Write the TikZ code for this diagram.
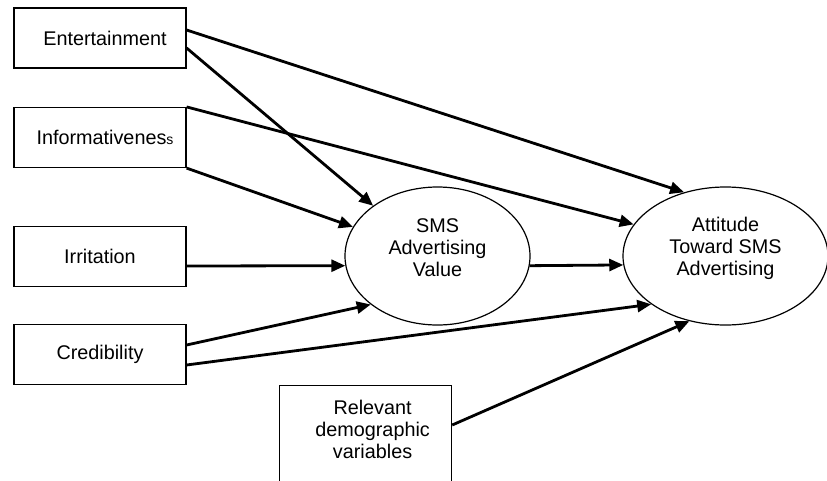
\documentclass[tikz,border=0pt]{standalone}
\usepackage{fontspec}
\setmainfont{Liberation Sans}
\usetikzlibrary{arrows.meta,positioning,shapes.geometric}

\tikzset{
  factor/.style={draw, line width=1.2pt, minimum width=172pt, minimum height=60pt, inner sep=0pt},
  construct/.style={draw, ellipse, line width=1.2pt, minimum height=138pt, inner sep=0pt},
  link/.style={line width=2.8pt, -{Triangle[length=14pt,width=12pt]}},
}

\begin{document}
\begin{tikzpicture}[x=1pt, y=-1pt, font=\fontsize{19.8}{22}\selectfont]
            \useasboundingbox (0,0) rectangle (827,480);
            % antecedents
            \node[factor] (ent) at (100,38) {\hspace*{10pt}Entertainment};
            \node[factor] (inf) at (100,137.5) {\hspace*{10pt}Informativenes{\fontsize{14}{22}\selectfont s}};
            \node[factor] (irr) at (100,256.5) {Irritation};
            \node[factor] (cred) at (100,354.5) {Credibility};
            \node[factor, minimum height=120pt, anchor=north west] (rel) at (279,385) {};
            \node[align=center, anchor=north, inner sep=0pt] (reltext) at ([xshift=7pt, yshift=-15pt]rel.north) {Relevant\\demographic\\variables};

            % constructs
            \node[construct, minimum width=185pt, label={[name=smstext, align=center, yshift=8pt]center:SMS\\Advertising\\Value}] (sms) at (437.5,256) {};
            \node[construct, minimum width=205pt, label={[name=atttext, align=center, yshift=8pt]center:Attitude\\Toward SMS\\Advertising}] (att) at (725.5,256) {};

            % paths
            \draw[link] ([yshift=8pt]ent.east) -- (att.123.8);
            \draw[link] ([yshift=-10pt]ent.east) -- (sms.142.9);
            \draw[link] (inf.north east) -- (att.161.9);
            \draw[link] (inf.south east) -- (sms.161);
            \draw[link] ([yshift=-9.5pt]irr.east) -- (sms.186);
            \draw[link] ([yshift=9.5pt]cred.east) -- (sms.216);
            \draw[link] ([yshift=-10.5pt]cred.east) -- (att.213);
            \draw[link] ([yshift=-40pt]rel.north east) -- (att.241.5);
            \draw[link] (sms.354) -- (att.185.6);
        \end{tikzpicture}
\end{document}
